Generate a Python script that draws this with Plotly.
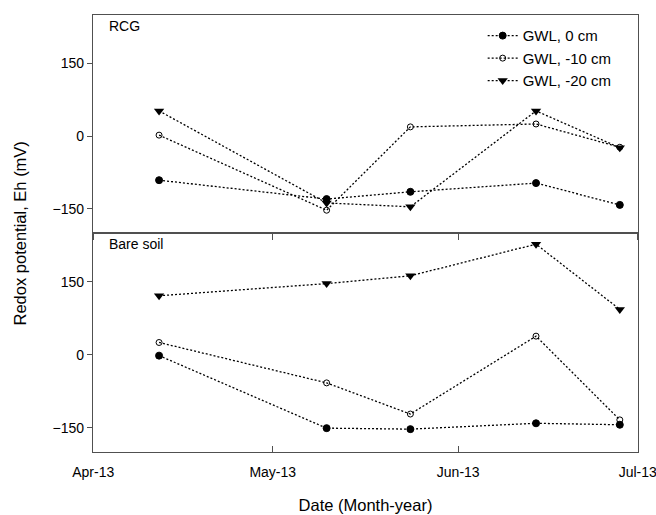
import plotly.graph_objects as go

dates = ["2013-04-12", "2013-05-10", "2013-05-24", "2013-06-14", "2013-06-28"]
series_names = ["GWL, 0 cm", "GWL, -10 cm", "GWL, -20 cm"]
rcg_gwl0 = [-91, -130, -115, -97, -142]
rcg_gwl10 = [2, -153, 19, 25, -23]
rcg_gwl20 = [52, -138, -146, 52, -24]
bare_gwl0 = [-2, -151, -153, -141, -144]
bare_gwl10 = [25, -58, -122, 38, -134]
bare_gwl20 = [121, 146, 162, 227, 93]
x_tickvals = ["2013-04-01", "2013-05-01", "2013-06-01", "2013-07-01"]
x_ticktext = ["Apr-13", "May-13", "Jun-13", "Jul-13"]
y_tickvals = [-150, 0, 150]

FONT = "Liberation Sans, Arial, sans-serif"
AX = "#505050"
DASH = "2px,2px"

marker_styles = [
    dict(symbol="circle", size=7, color="black", line=dict(color="black", width=1)),
    dict(symbol="circle-open", size=6, color="black", line=dict(color="black", width=1)),
    dict(symbol="triangle-down", size=9, color="black", line=dict(color="black", width=0)),
]

fig = go.Figure()
top = [rcg_gwl0, rcg_gwl10, rcg_gwl20]
bottom = [bare_gwl0, bare_gwl10, bare_gwl20]
for i, (name, vals) in enumerate(zip(series_names, top)):
    fig.add_trace(go.Scatter(x=dates, y=vals, name=name, mode="lines+markers",
                             line=dict(color="black", width=1.3, dash=DASH),
                             marker=marker_styles[i], xaxis="x2", yaxis="y2",
                             showlegend=True))
for i, (name, vals) in enumerate(zip(series_names, bottom)):
    fig.add_trace(go.Scatter(x=dates, y=vals, name=name, mode="lines+markers",
                             line=dict(color="black", width=1.3, dash=DASH),
                             marker=marker_styles[i], xaxis="x", yaxis="y",
                             showlegend=False))

xcommon = dict(type="date", range=["2013-03-31 23:00", "2013-07-01 01:00"], tickvals=x_tickvals,
               ticktext=x_ticktext, showgrid=False, zeroline=False, showline=True,
               linecolor=AX, linewidth=1.2, mirror=True, automargin=False)
ycommon = dict(range=[-200, 250], tickvals=y_tickvals, showgrid=False, zeroline=False,
               showline=True, linecolor=AX, linewidth=1.2, mirror=True,
               ticks="outside", ticklen=5, tickcolor=AX, automargin=False,
               tickfont=dict(size=14, color="black", family=FONT))

fig.update_layout(
    width=656, height=515,
    margin=dict(l=93, r=18, t=15, b=63, autoexpand=False),
    paper_bgcolor="white", plot_bgcolor="white",
    font=dict(family=FONT, color="black"),
    xaxis=dict(**xcommon, anchor="y", ticks="inside", ticklen=6, tickcolor=AX,
               ticklabeloverflow="allow", ticklabelstandoff=7,
               tickfont=dict(size=14, color="black", family=FONT),
               title=dict(text="Date (Month-year)", font=dict(size=16.5, family=FONT), standoff=20)),
    xaxis2=dict(**xcommon, anchor="y2", matches="x", showticklabels=False,
                ticks="outside", ticklen=6, tickcolor=AX),
    yaxis=dict(**ycommon, domain=[0, 0.5012], anchor="x"),
    yaxis2=dict(**ycommon, domain=[0.5012, 1], anchor="x2"),
    legend=dict(x=0.715, y=0.99, xanchor="left", yanchor="top",
                font=dict(size=15, family=FONT, color="black"),
                bgcolor="rgba(0,0,0,0)", tracegroupgap=0, itemwidth=30),
    showlegend=True,
    annotations=[
        dict(text="RCG", xref="paper", yref="paper", x=0.025, y=0.975,
             xanchor="left", yanchor="middle", showarrow=False, font=dict(size=14)),
        dict(text="Bare soil", xref="paper", yref="paper", x=0.025, y=0.475,
             xanchor="left", yanchor="middle", showarrow=False, font=dict(size=14)),
        dict(text="Redox potential, Eh (mV)", xref="paper", yref="paper",
             x=-0.134, y=0.5, xanchor="center", yanchor="middle", textangle=-90,
             showarrow=False, font=dict(size=16.5)),
    ],
)

fig.write_html("out.html", config={"displayModeBar": False},
               post_script="document.body.style.margin='0';")
